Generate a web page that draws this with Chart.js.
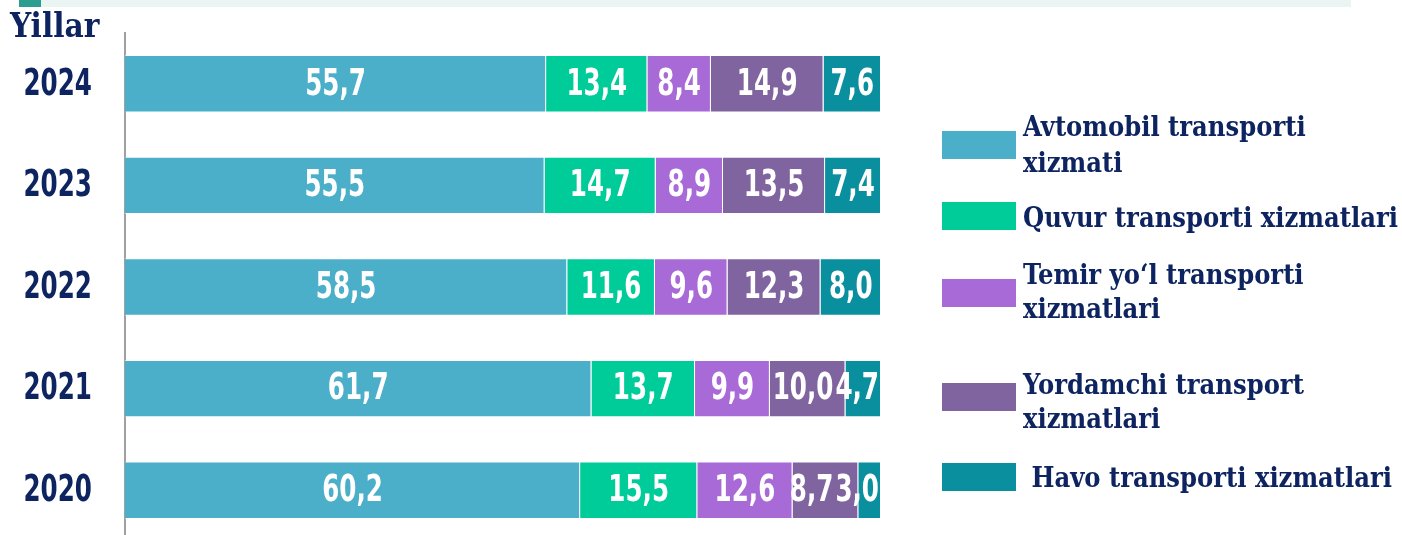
<!DOCTYPE html>
<html>
<head>
<meta charset="utf-8">
<script src="https://cdn.jsdelivr.net/npm/chart.js@4"></script>
<style>
  html, body { margin:0; padding:0; background:#fff; overflow:hidden; }
  .strip { position:absolute; top:0; height:7px; }
  #wrap { position:absolute; left:0; top:0; width:1402px; height:541px; }
</style>
</head>
<body>
<div class="strip" style="left:41px;width:1310px;background:#eaf5f3"></div>
<div class="strip" style="left:19px;width:22px;background:#2a9d8f"></div>
<div id="wrap"><canvas id="chart" width="1402" height="541"></canvas></div>
<script>
// DATA
const years = ["2024", "2023", "2022", "2021", "2020"];
const seriesNames = [
  ["Avtomobil transporti", "xizmati"],
  ["Quvur transporti xizmatlari"],
  ["Temir yo‘l transporti", "xizmatlari"],
  ["Yordamchi transport", "xizmatlari"],
  [" Havo transporti xizmatlari"]
];
const avtomobil = [55.7, 55.5, 58.5, 61.7, 60.2];
const quvur     = [13.4, 14.7, 11.6, 13.7, 15.5];
const temirYol  = [8.4, 8.9, 9.6, 9.9, 12.6];
const yordamchi = [14.9, 13.5, 12.3, 10.0, 8.7];
const havo      = [7.6, 7.4, 8.0, 4.7, 3.0];
const colors = ["#4bafc9", "#00cc9a", "#a86ad6", "#8064a0", "#0a8f9e"];

const navy = "#0d2460";
const numFont = '"DejaVu Sans Condensed", "DejaVu Sans", sans-serif';
const serifFont = '"DejaVu Serif Condensed", "DejaVu Serif", serif';
const SX = 0.72;

// condensed numbers: squeeze the font sideways
function narrowText(ctx, txt, x, y, align) {
  ctx.save();
  ctx.font = "bold 38px " + numFont;
  ctx.textBaseline = "middle";
  ctx.textAlign = align;
  ctx.translate(x, y);
  ctx.scale(SX, 1);
  ctx.fillText(txt, 0, 0);
  ctx.restore();
}
function narrowWidth(ctx, txt) {
  ctx.save();
  ctx.font = "bold 38px " + numFont;
  const w = ctx.measureText(txt).width * SX;
  ctx.restore();
  return w;
}

// value labels inside the bars, year labels on the left
const barLabels = {
  id: "barLabels",
  afterDatasetsDraw(chart) {
    const ctx = chart.ctx;
    const right = chart.chartArea.right - 2;
    chart.data.labels.forEach((lab, i) => {
      // centre each label, then push crowded ones leftwards from the end
      const items = chart.data.datasets.map((ds, di) => {
        const bar = chart.getDatasetMeta(di).data[i];
        const txt = ds.data[i].toFixed(1).replace(".", ",");
        return { txt, cx: (bar.x + bar.base) / 2, w: narrowWidth(ctx, txt), y: bar.y };
      });
      let limit = right;
      for (let k = items.length - 1; k >= 0; k--) {
        const it = items[k];
        if (it.cx + it.w / 2 > limit) it.cx = limit - it.w / 2;
        limit = it.cx - it.w / 2 - 2;
      }
      ctx.fillStyle = "#fff";
      items.forEach(it => narrowText(ctx, it.txt, it.cx, it.y + 1, "center"));
      ctx.fillStyle = navy;
      narrowText(ctx, lab, 92, chart.scales.y.getPixelForTick(i) + 1, "right");
    });
  }
};

// title "Yillar" and the legend on the right
const extras = {
  id: "extras",
  afterDraw(chart) {
    const ctx = chart.ctx;
    ctx.save();
    ctx.fillStyle = navy;
    ctx.font = "bold 33px " + serifFont;
    ctx.textBaseline = "alphabetic";
    ctx.fillText("Yillar", 10, 37);

    const boxTops = [131, 202, 279, 383, 463];
    const lineBase = [[136, 172], [227], [284, 318], [394, 428], [487]];
    ctx.font = "bold 27px " + serifFont;
    chart.data.datasets.forEach((ds, di) => {
      ctx.fillStyle = ds.backgroundColor;
      ctx.fillRect(942, boxTops[di], 74, 28);
      ctx.fillStyle = navy;
      seriesNames[di].forEach((line, li) => {
        ctx.fillText(line, 1023, lineBase[di][li]);
      });
    });
    ctx.restore();
  }
};

const seriesData = [avtomobil, quvur, temirYol, yordamchi, havo];

new Chart(document.getElementById("chart"), {
  type: "bar",
  data: {
    labels: years,
    datasets: seriesData.map((d, k) => ({
      label: seriesNames[k].join(" "),
      data: d,
      backgroundColor: colors[k],
      borderColor: "rgba(255,255,255,0.5)",
      borderWidth: 1,
      categoryPercentage: 1,
      barPercentage: 0.565
    }))
  },
  options: {
    indexAxis: "y",
    responsive: false,
    animation: false,
    layout: { padding: { top: 33, right: 521, bottom: 0, left: 0 } },
    scales: {
      x: { stacked: true, min: 0, max: 100, display: false },
      y: {
        stacked: true,
        grid: { display: false },
        border: { display: true, color: "#a0a0a0", width: 2 },
        ticks: { display: false },
        afterFit(scale) { scale.width = 125; }
      }
    },
    plugins: {
      legend: { display: false },
      tooltip: { enabled: false }
    }
  },
  plugins: [barLabels, extras]
});
</script>
</body>
</html>
